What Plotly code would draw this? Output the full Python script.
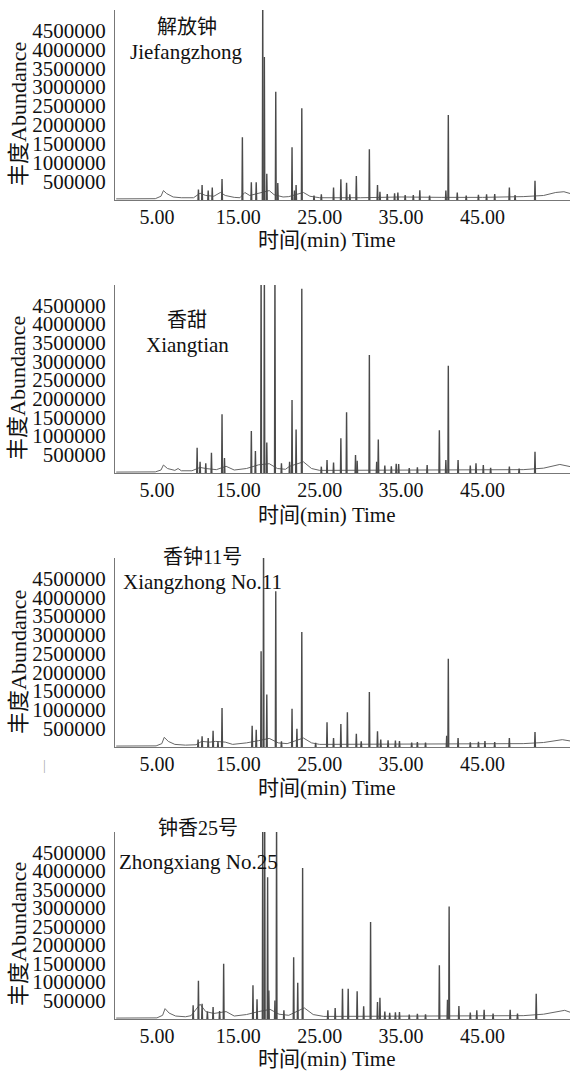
import plotly.graph_objects as go

# ---------------- data ----------------
samples_cn = ["解放钟", "香甜", "香钟11号", "钟香25号"]
samples_en = ["Jiefangzhong", "Xiangtian", "Xiangzhong No.11", "Zhongxiang No.25"]

x_tickvals = [5, 15, 25, 35, 45]
x_ticktext = ["5.00", "15.00", "25.00", "35.00", "45.00"]
y_tickvals = [500000, 1000000, 1500000, 2000000, 2500000, 3000000, 3500000, 4000000, 4500000]
y_ticktext = ["500000", "1000000", "1500000", "2000000", "2500000", "3000000", "3500000", "4000000", "4500000"]

# peaks: retention time (min) and abundance
jf_rt = [10.1, 10.55, 11.3, 11.8, 13.0, 15.5, 16.6, 17.2, 18.0, 18.2, 18.5, 19.6, 19.85, 21.6, 21.9, 22.1, 22.8,
         24.3, 25.2, 26.7, 27.6, 28.3, 28.7, 29.5, 31.1, 32.1, 32.4, 33.3, 34.2, 34.6, 35.5, 36.5, 37.3, 38.5,
         40.5, 40.8, 41.9, 43.0, 44.5, 45.5, 46.5, 48.3, 49.0, 51.45]
jf_h = [280e3, 400e3, 250e3, 330e3, 560e3, 1670e3, 470e3, 470e3, 5600e3, 3800e3, 700e3, 2880e3, 450e3, 1400e3, 250e3, 400e3, 2440e3,
        120e3, 150e3, 330e3, 550e3, 460e3, 150e3, 640e3, 1350e3, 400e3, 220e3, 160e3, 180e3, 200e3, 130e3, 130e3, 260e3, 120e3,
        250e3, 2260e3, 200e3, 120e3, 140e3, 150e3, 160e3, 330e3, 130e3, 514e3]

xt_rt = [9.94, 10.3, 11.0, 11.7, 13.0, 13.3, 16.6, 17.1, 17.8, 18.2, 18.5, 19.5, 20.3, 21.3, 21.6, 22.1, 22.8,
         25.2, 25.9, 26.7, 27.6, 28.3, 29.4, 29.6, 31.1, 32.0, 32.2, 33.0, 33.8, 34.4, 34.7, 36.0, 37.0, 38.2,
         39.7, 40.5, 40.8, 42.0, 43.5, 44.2, 45.1, 46.0, 48.3, 49.5, 51.45]
xt_h = [680e3, 300e3, 260e3, 546e3, 1580e3, 400e3, 1130e3, 590e3, 5600e3, 5600e3, 820e3, 5600e3, 260e3, 300e3, 1960e3, 1170e3, 4950e3,
        170e3, 350e3, 280e3, 930e3, 1630e3, 480e3, 330e3, 3170e3, 300e3, 900e3, 200e3, 180e3, 250e3, 240e3, 130e3, 150e3, 215e3,
        1150e3, 350e3, 2880e3, 350e3, 200e3, 260e3, 215e3, 140e3, 170e3, 120e3, 570e3]

xz_rt = [10.06, 10.55, 11.3, 11.9, 12.5, 13.0, 16.7, 17.2, 17.8, 18.1, 18.5, 19.6, 20.3, 21.6, 22.2, 22.8,
         24.5, 25.9, 26.7, 27.6, 28.4, 29.5, 30.1, 31.1, 32.1, 32.5, 33.4, 34.3, 34.8, 36.3, 37.0, 38.0,
         40.6, 40.8, 42.0, 43.5, 44.5, 45.3, 46.5, 48.3, 51.45]
xz_h = [196e3, 285e3, 240e3, 436e3, 150e3, 1040e3, 570e3, 463e3, 2560e3, 5600e3, 1400e3, 4160e3, 150e3, 1020e3, 490e3, 3070e3,
        110e3, 660e3, 240e3, 615e3, 926e3, 356e3, 150e3, 1470e3, 420e3, 200e3, 180e3, 170e3, 160e3, 120e3, 130e3, 120e3,
        300e3, 2360e3, 240e3, 125e3, 140e3, 160e3, 130e3, 240e3, 400e3]

zx_rt = [9.45, 10.1, 10.55, 11.2, 11.9, 12.7, 13.2, 16.8, 17.3, 18.0, 18.24, 18.6, 18.75, 19.5, 19.7, 20.6, 21.8, 22.3, 22.9,
         26.0, 26.9, 27.8, 28.5, 29.6, 30.4, 31.25, 32.1, 32.4, 33.0, 33.6, 34.3, 34.8, 36.0, 37.0, 38.0,
         39.7, 40.7, 40.9, 42.1, 43.5, 44.3, 45.2, 46.3, 48.4, 49.3, 51.6]
zx_h = [370e3, 1030e3, 414e3, 200e3, 324e3, 216e3, 1490e3, 909e3, 531e3, 5600e3, 5600e3, 3830e3, 770e3, 500e3, 5600e3, 234e3, 1670e3, 980e3, 4080e3,
        234e3, 297e3, 820e3, 820e3, 747e3, 342e3, 2620e3, 460e3, 576e3, 200e3, 170e3, 180e3, 190e3, 120e3, 140e3, 130e3,
        1450e3, 522e3, 3040e3, 351e3, 171e3, 234e3, 252e3, 150e3, 252e3, 144e3, 684e3]

# baseline / broad humps: time (min) and abundance
jf_bl_t = [0, 4.8, 5.5, 5.8, 6.2, 7.0, 8.0, 9.5, 10.3, 11.0, 12.0, 12.8, 13.4, 14.5, 15.2, 15.8, 16.4, 17.5, 18.8, 19.4,
           20.5, 21.2, 23.0, 23.8, 25.0, 30.0, 35.0, 40.0, 45.0, 50.0, 52.5, 54.0, 55.0, 55.8]
jf_bl_y = [30e3, 35e3, 100e3, 250e3, 170e3, 80e3, 60e3, 60e3, 180e3, 120e3, 100e3, 200e3, 120e3, 70e3, 60e3, 200e3, 120e3, 180e3, 250e3, 140e3,
           80e3, 90e3, 200e3, 100e3, 60e3, 60e3, 80e3, 70e3, 70e3, 90e3, 120e3, 200e3, 220e3, 170e3]

xt_bl_t = [0, 4.8, 5.5, 5.8, 6.3, 7.2, 7.6, 8.0, 9.3, 10.3, 11.0, 12.3, 13.5, 14.5, 16.0, 17.5, 18.8, 19.8, 20.8, 21.3,
           23.0, 24.0, 25.0, 30.0, 35.0, 40.0, 45.0, 50.0, 52.5, 54.5, 55.8]
xt_bl_y = [25e3, 30e3, 80e3, 215e3, 120e3, 70e3, 120e3, 60e3, 60e3, 150e3, 120e3, 90e3, 180e3, 80e3, 120e3, 220e3, 250e3, 120e3, 100e3, 180e3,
           300e3, 120e3, 70e3, 70e3, 90e3, 80e3, 80e3, 90e3, 130e3, 230e3, 170e3]

xz_bl_t = [0, 4.9, 5.6, 5.9, 6.4, 7.2, 8.5, 9.8, 10.5, 11.5, 12.2, 13.4, 14.3, 16.0, 17.5, 18.8, 19.9, 21.0,
           23.0, 24.0, 25.0, 30.0, 35.0, 40.0, 45.0, 50.0, 52.5, 54.8, 55.8]
xz_bl_y = [25e3, 30e3, 90e3, 258e3, 150e3, 70e3, 50e3, 60e3, 150e3, 130e3, 150e3, 130e3, 70e3, 110e3, 170e3, 230e3, 110e3, 90e3,
           240e3, 110e3, 70e3, 70e3, 90e3, 80e3, 80e3, 90e3, 120e3, 196e3, 160e3]

zx_bl_t = [0, 5.0, 5.7, 6.0, 6.5, 7.3, 8.5, 9.2, 10.3, 11.0, 12.0, 13.5, 14.5, 16.0, 17.5, 18.9, 20.0, 21.2,
           23.1, 24.2, 25.5, 30.0, 35.0, 40.0, 45.0, 50.0, 52.5, 55.1, 55.8]
zx_bl_y = [25e3, 30e3, 100e3, 280e3, 160e3, 80e3, 60e3, 90e3, 400e3, 200e3, 150e3, 200e3, 80e3, 120e3, 200e3, 260e3, 130e3, 100e3,
           300e3, 120e3, 70e3, 70e3, 90e3, 80e3, 80e3, 90e3, 130e3, 234e3, 180e3]

peak_rts = [jf_rt, xt_rt, xz_rt, zx_rt]
peak_hs = [jf_h, xt_h, xz_h, zx_h]
base_ts = [jf_bl_t, xt_bl_t, xz_bl_t, zx_bl_t]
base_ys = [jf_bl_y, xt_bl_y, xz_bl_y, zx_bl_y]

# ---------------- layout geometry (pixels) ----------------
W, H = 570, 1074
panel_top = [10, 285, 558, 832]
panel_bot = [200, 473, 747, 1019]
x_left = 115
half_w = 0.05

serif = "Liberation Serif, 'Noto Sans CJK SC', serif"
line_col = "#4a4a4a"

fig = go.Figure()
annotations = []

for i in range(4):
    xa = "x" if i == 0 else f"x{i+1}"
    ya = "y" if i == 0 else f"y{i+1}"
    # baseline / humps
    fig.add_trace(go.Scatter(x=base_ts[i], y=base_ys[i], mode="lines",
                             line=dict(color="#666666", width=1), xaxis=xa, yaxis=ya,
                             hoverinfo="skip"))
    # peaks as narrow spikes
    sx, sy = [], []
    for rt, h in zip(peak_rts[i], peak_hs[i]):
        sx += [rt - half_w, rt, rt + half_w, None]
        sy += [0, h, 0, None]
    fig.add_trace(go.Scatter(x=sx, y=sy, mode="lines",
                             line=dict(color=line_col, width=1.4), xaxis=xa, yaxis=ya,
                             connectgaps=False))

    dom_y = [1 - panel_bot[i] / H, 1 - panel_top[i] / H]
    xkey = "xaxis" if i == 0 else f"xaxis{i+1}"
    ykey = "yaxis" if i == 0 else f"yaxis{i+1}"
    fig.layout[xkey] = dict(domain=[x_left / W, 1.0], range=[-0.15, 55.75], anchor=ya,
                            tickvals=x_tickvals, ticktext=x_ticktext,
                            showline=True, linecolor="#777777", linewidth=1,
                            ticks="", ticklabelstandoff=-1,
                            showgrid=False, zeroline=False,
                            tickfont=dict(family=serif, size=20, color="#111111"))
    fig.layout[ykey] = dict(domain=dom_y, range=[0, 5.05e6], anchor=xa,
                            tickvals=y_tickvals, ticktext=y_ticktext,
                            showline=True, linecolor="#777777", linewidth=1,
                            ticks="outside", ticklen=4, tickcolor="rgba(0,0,0,0)",
                            showgrid=False, zeroline=False,
                            tickfont=dict(family=serif, size=21, color="#111111"))

# text positions (pixels)
cn_pos = [(187, 27), (187, 320), (202, 557), (198, 828)]
en_pos = [(186, 52), (187, 345), (202, 582), (198, 862)]
ytitle_y = [114, 388, 662, 934]
xtitle_y = [240, 515, 788, 1059]

for i in range(4):
    annotations.append(dict(x=cn_pos[i][0] / W, y=1 - cn_pos[i][1] / H, xref="paper", yref="paper",
                            text=samples_cn[i], showarrow=False, xanchor="center", yanchor="middle",
                            font=dict(family=serif, size=20, color="#111111")))
    annotations.append(dict(x=en_pos[i][0] / W, y=1 - en_pos[i][1] / H, xref="paper", yref="paper",
                            text=samples_en[i], showarrow=False, xanchor="center", yanchor="middle",
                            font=dict(family=serif, size=21, color="#111111")))
    annotations.append(dict(x=18 / W, y=1 - ytitle_y[i] / H, xref="paper", yref="paper",
                            text="丰度Abundance", textangle=-90, showarrow=False,
                            xanchor="center", yanchor="middle",
                            font=dict(family=serif, size=22, color="#111111")))
    annotations.append(dict(x=326 / W, y=1 - xtitle_y[i] / H, xref="paper", yref="paper",
                            text="时间(min) Time", showarrow=False, xanchor="center", yanchor="middle",
                            font=dict(family=serif, size=21, color="#111111")))

annotations.append(dict(x=41 / W, y=1 - 775 / H, xref="paper", yref="paper", text="|",
                        showarrow=False, font=dict(family=serif, size=14, color="#aaaaaa")))

fig.update_layout(width=W, height=H, margin=dict(l=0, r=0, t=0, b=0),
                  paper_bgcolor="white", plot_bgcolor="white", showlegend=False,
                  annotations=annotations)

fig.write_html("out.html", config={"displayModeBar": False},
               post_script="document.body.style.margin='0';document.body.style.overflow='hidden';")
